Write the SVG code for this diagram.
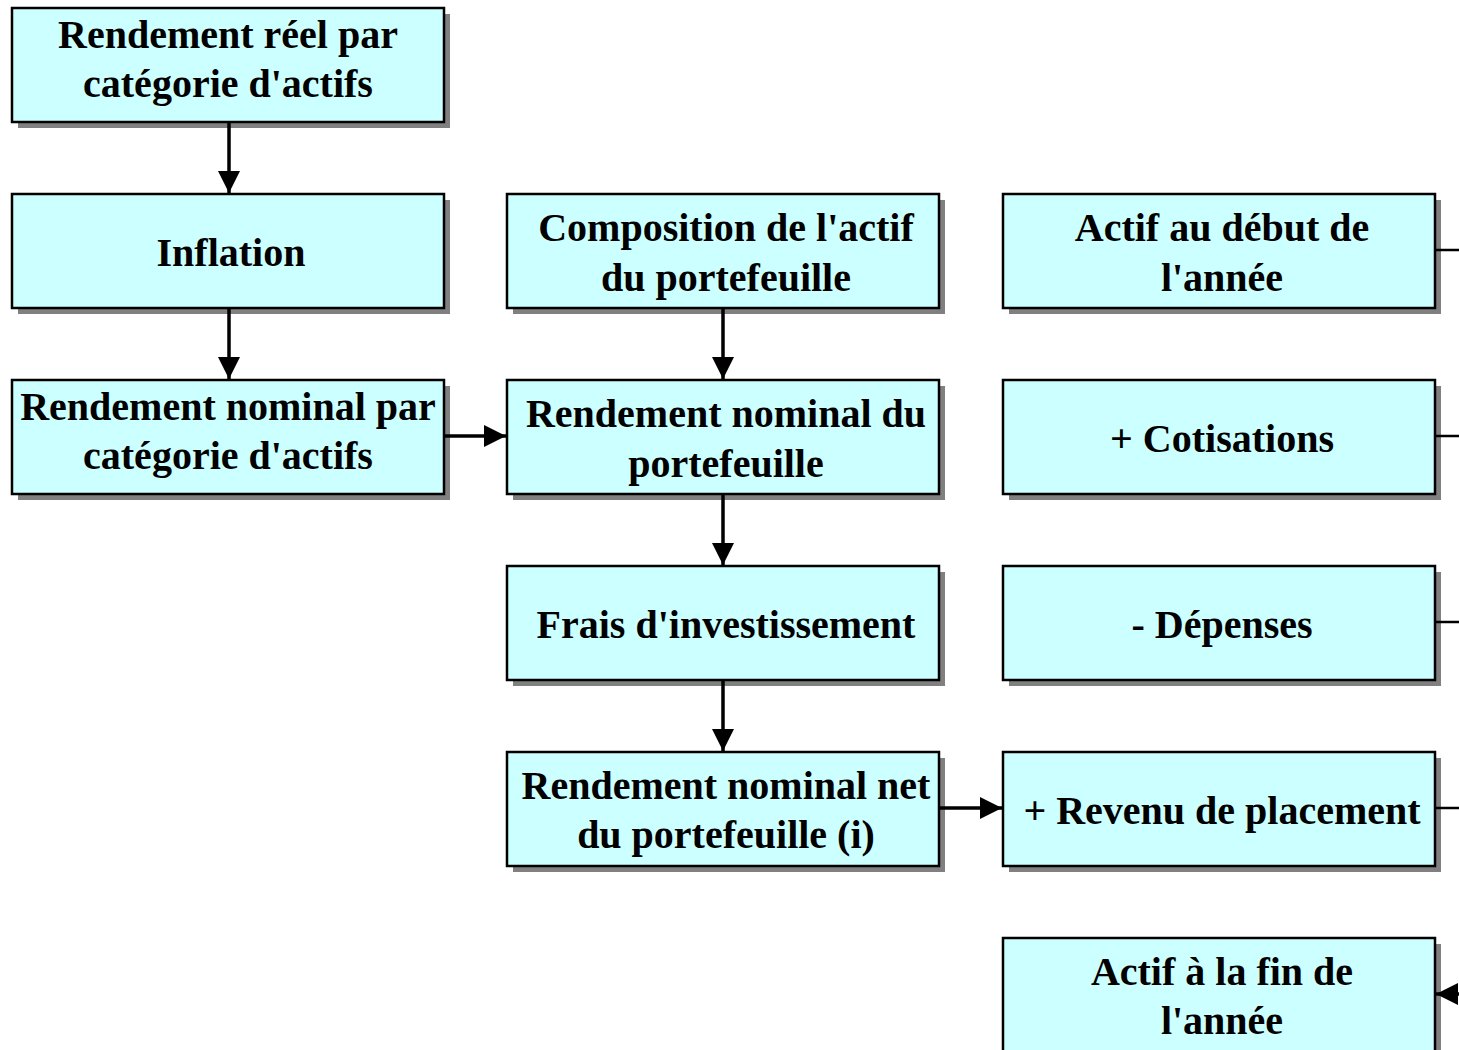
<svg xmlns="http://www.w3.org/2000/svg" width="1459" height="1050" viewBox="0 0 1459 1050">
  <defs>
    <style>
      .box { fill: #ccffff; stroke: #000; stroke-width: 2.5; }
      .shadow { fill: #808080; }
      .label { font-family: "Liberation Serif", "Times New Roman", serif; font-weight: bold; font-size: 40px; fill: #000; text-anchor: middle; }
      .edge { stroke: #000; stroke-width: 3.5; fill: none; }
      .edge-thin { stroke: #000; stroke-width: 2.5; fill: none; }
    </style>
    <marker id="arrow" viewBox="0 0 10 10" refX="10" refY="5" markerWidth="6.4" markerHeight="6.4" markerUnits="strokeWidth" orient="auto">
      <path d="M0,0 L10,5 L0,10 Z" fill="#000"/>
    </marker>
  </defs>
  <rect width="1459" height="1050" fill="#fff"/>

  <!-- column 1 -->
  <g id="reel">
    <rect class="shadow" x="18" y="14" width="432" height="114"/>
    <rect class="box" x="12" y="8" width="432" height="114"/>
    <text class="label" x="228" y="48">Rendement réel par</text>
    <text class="label" x="228" y="97">catégorie d'actifs</text>
  </g>
  <g id="inflation">
    <rect class="shadow" x="18" y="200" width="432" height="114"/>
    <rect class="box" x="12" y="194" width="432" height="114"/>
    <text class="label" x="231" y="266">Inflation</text>
  </g>
  <g id="nominal-cat">
    <rect class="shadow" x="18" y="386" width="432" height="114"/>
    <rect class="box" x="12" y="380" width="432" height="114"/>
    <text class="label" x="228" y="420">Rendement nominal par</text>
    <text class="label" x="228" y="469">catégorie d'actifs</text>
  </g>

  <!-- column 2 -->
  <g id="composition">
    <rect class="shadow" x="513" y="200" width="432" height="114"/>
    <rect class="box" x="507" y="194" width="432" height="114"/>
    <text class="label" x="726" y="241">Composition de l'actif</text>
    <text class="label" x="726" y="291">du portefeuille</text>
  </g>
  <g id="nominal-ptf">
    <rect class="shadow" x="513" y="386" width="432" height="114"/>
    <rect class="box" x="507" y="380" width="432" height="114"/>
    <text class="label" x="726" y="427">Rendement nominal du</text>
    <text class="label" x="726" y="477">portefeuille</text>
  </g>
  <g id="frais">
    <rect class="shadow" x="513" y="572" width="432" height="114"/>
    <rect class="box" x="507" y="566" width="432" height="114"/>
    <text class="label" x="726" y="638">Frais d'investissement</text>
  </g>
  <g id="nominal-net">
    <rect class="shadow" x="513" y="758" width="432" height="114"/>
    <rect class="box" x="507" y="752" width="432" height="114"/>
    <text class="label" x="726" y="799">Rendement nominal net</text>
    <text class="label" x="726" y="848">du portefeuille (i)</text>
  </g>

  <!-- column 3 -->
  <g id="actif-debut">
    <rect class="shadow" x="1009" y="200" width="432" height="114"/>
    <rect class="box" x="1003" y="194" width="432" height="114"/>
    <text class="label" x="1222" y="241">Actif au début de</text>
    <text class="label" x="1222" y="291">l'année</text>
  </g>
  <g id="cotisations">
    <rect class="shadow" x="1009" y="386" width="432" height="114"/>
    <rect class="box" x="1003" y="380" width="432" height="114"/>
    <text class="label" x="1222" y="452">+ Cotisations</text>
  </g>
  <g id="depenses">
    <rect class="shadow" x="1009" y="572" width="432" height="114"/>
    <rect class="box" x="1003" y="566" width="432" height="114"/>
    <text class="label" x="1222" y="638">- Dépenses</text>
  </g>
  <g id="revenu">
    <rect class="shadow" x="1009" y="758" width="432" height="114"/>
    <rect class="box" x="1003" y="752" width="432" height="114"/>
    <text class="label" x="1222" y="824">+ Revenu de placement</text>
  </g>
  <g id="actif-fin">
    <rect class="shadow" x="1009" y="944" width="432" height="114"/>
    <rect class="box" x="1003" y="938" width="432" height="114"/>
    <text class="label" x="1222" y="985">Actif à la fin de</text>
    <text class="label" x="1222" y="1034">l'année</text>
  </g>

  <!-- connectors -->
  <g id="connectors">
    <line class="edge" x1="229" y1="122" x2="229" y2="193" marker-end="url(#arrow)"/>
    <line class="edge" x1="229" y1="308" x2="229" y2="379" marker-end="url(#arrow)"/>
    <line class="edge" x1="444" y1="436" x2="506" y2="436" marker-end="url(#arrow)"/>
    <line class="edge" x1="723" y1="308" x2="723" y2="379" marker-end="url(#arrow)"/>
    <line class="edge" x1="723" y1="494" x2="723" y2="565" marker-end="url(#arrow)"/>
    <line class="edge" x1="723" y1="680" x2="723" y2="751" marker-end="url(#arrow)"/>
    <line class="edge" x1="939" y1="808" x2="1002" y2="808" marker-end="url(#arrow)"/>
    <line class="edge-thin" x1="1435" y1="250" x2="1470" y2="250"/>
    <line class="edge-thin" x1="1435" y1="436" x2="1470" y2="436"/>
    <line class="edge-thin" x1="1435" y1="622" x2="1470" y2="622"/>
    <line class="edge-thin" x1="1435" y1="808" x2="1470" y2="808"/>
    <line class="edge" x1="1480" y1="994" x2="1436" y2="994" marker-end="url(#arrow)"/>
  </g>
</svg>
